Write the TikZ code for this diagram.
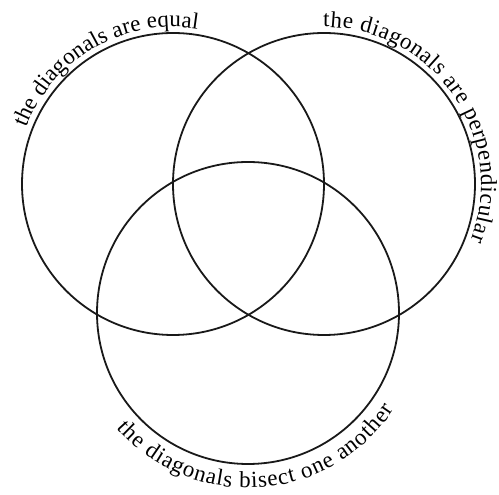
\documentclass[tikz,border=0pt]{standalone}
\usepackage{fontspec}
\setmainfont{Liberation Serif}
\usetikzlibrary{decorations.text,calc}
\begin{document}
\begin{tikzpicture}[x=1pt,y=1pt,
  venn/.style={line width=1.8pt, draw=black!90},
  arclabel/.style={decorate, decoration={text along path, text align={fit to path}, text={|\fontsize{23}{23}\selectfont|#1}}}]
\useasboundingbox (0,0) rectangle (499,495);
\coordinate (A) at (173,311);
\coordinate (B) at (324,311);
\coordinate (C) at (248,182);
\draw[venn] (A) circle[radius=151];
\draw[venn] (B) circle[radius=151];
\draw[venn] (C) circle[radius=151];
\path[arclabel={the diagonals are equal}] ($(A)+(159:157)$) arc[start angle=159, end angle=81, radius=157];
\path[arclabel={the diagonals are perpendicular}] ($(B)+(90.3:157)$) arc[start angle=90.3, end angle=-21, radius=157];
\path[arclabel={the diagonals bisect one another}] ($(C)+(221.3:175)$) arc[start angle=221.3, end angle=326.6, radius=175];
\end{tikzpicture}
\end{document}
